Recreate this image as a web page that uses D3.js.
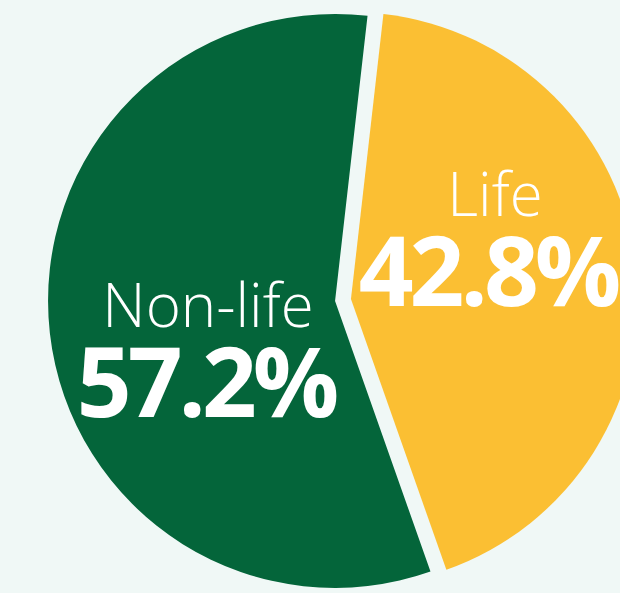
<!DOCTYPE html>
<html lang="en">
<head>
<meta charset="UTF-8">
<title>Insurance premiums: Life vs Non-life</title>
<script src="https://d3js.org/d3.v7.min.js"></script>
<style>
  html, body { margin: 0; padding: 0; background: #f0f8f6; }
  svg { display: block; }
  .name { font-family: "Open Sans", sans-serif; font-weight: 300; fill: #fff; }
  .pct { font-family: "Open Sans", sans-serif; font-weight: 700; fill: #fff; }
</style>
</head>
<body>
<script>
// data
const categories = ["Life", "Non-life"];
const shares = [42.8, 57.2];
const pctLabels = ["42.8%", "57.2%"];

const colors = ["#fbbf33", "#04653a"];

const width = 620, height = 593;
const cx = 343, cy = 300, radius = 287;
const explode = 8;
const startDeg = 6.5;

// label anchor offsets relative to slice centroid (px): name dx, pct dx, dy
const labelShift = [[-5, -12, -33], [22, 20, 42]];

const svg = d3.select("body").append("svg")
    .attr("width", width)
    .attr("height", height);

svg.append("rect")
    .attr("width", width)
    .attr("height", height)
    .attr("fill", "#f0f8f6");

const start = startDeg * Math.PI / 180;
const pie = d3.pie()
    .sort(null)
    .value(d => d.value)
    .startAngle(start)
    .endAngle(start + 2 * Math.PI);

const data = categories.map((c, i) => ({ name: c, value: shares[i], pct: pctLabels[i], color: colors[i], idx: i }));
const arcs = pie(data);

const arc = d3.arc().innerRadius(0).outerRadius(radius);
const labelArc = d3.arc().innerRadius(150).outerRadius(150);

const g = svg.append("g").attr("transform", `translate(${cx},${cy})`);

const slice = g.selectAll("g.slice")
    .data(arcs)
    .enter().append("g")
    .attr("class", "slice")
    .attr("transform", d => {
        const mid = (d.startAngle + d.endAngle) / 2;
        return `translate(${Math.sin(mid) * explode},${-Math.cos(mid) * explode})`;
    });

slice.append("path")
    .attr("d", arc)
    .attr("fill", d => d.data.color);

slice.each(function (d) {
    const [lx, ly] = labelArc.centroid(d);
    const s = labelShift[d.data.idx];
    const y = ly + s[2];
    const sel = d3.select(this);
    sel.append("text")
        .attr("class", "name")
        .attr("x", lx + s[0])
        .attr("y", y - 33)
        .attr("text-anchor", "middle")
        .attr("font-size", 60)
        .text(d.data.name);
    sel.append("text")
        .attr("class", "pct")
        .attr("x", lx + s[1])
        .attr("y", y + 57)
        .attr("text-anchor", "middle")
        .attr("font-size", 96)
        .attr("letter-spacing", -4)
        .text(d.data.pct);
});
</script>
</body>
</html>
